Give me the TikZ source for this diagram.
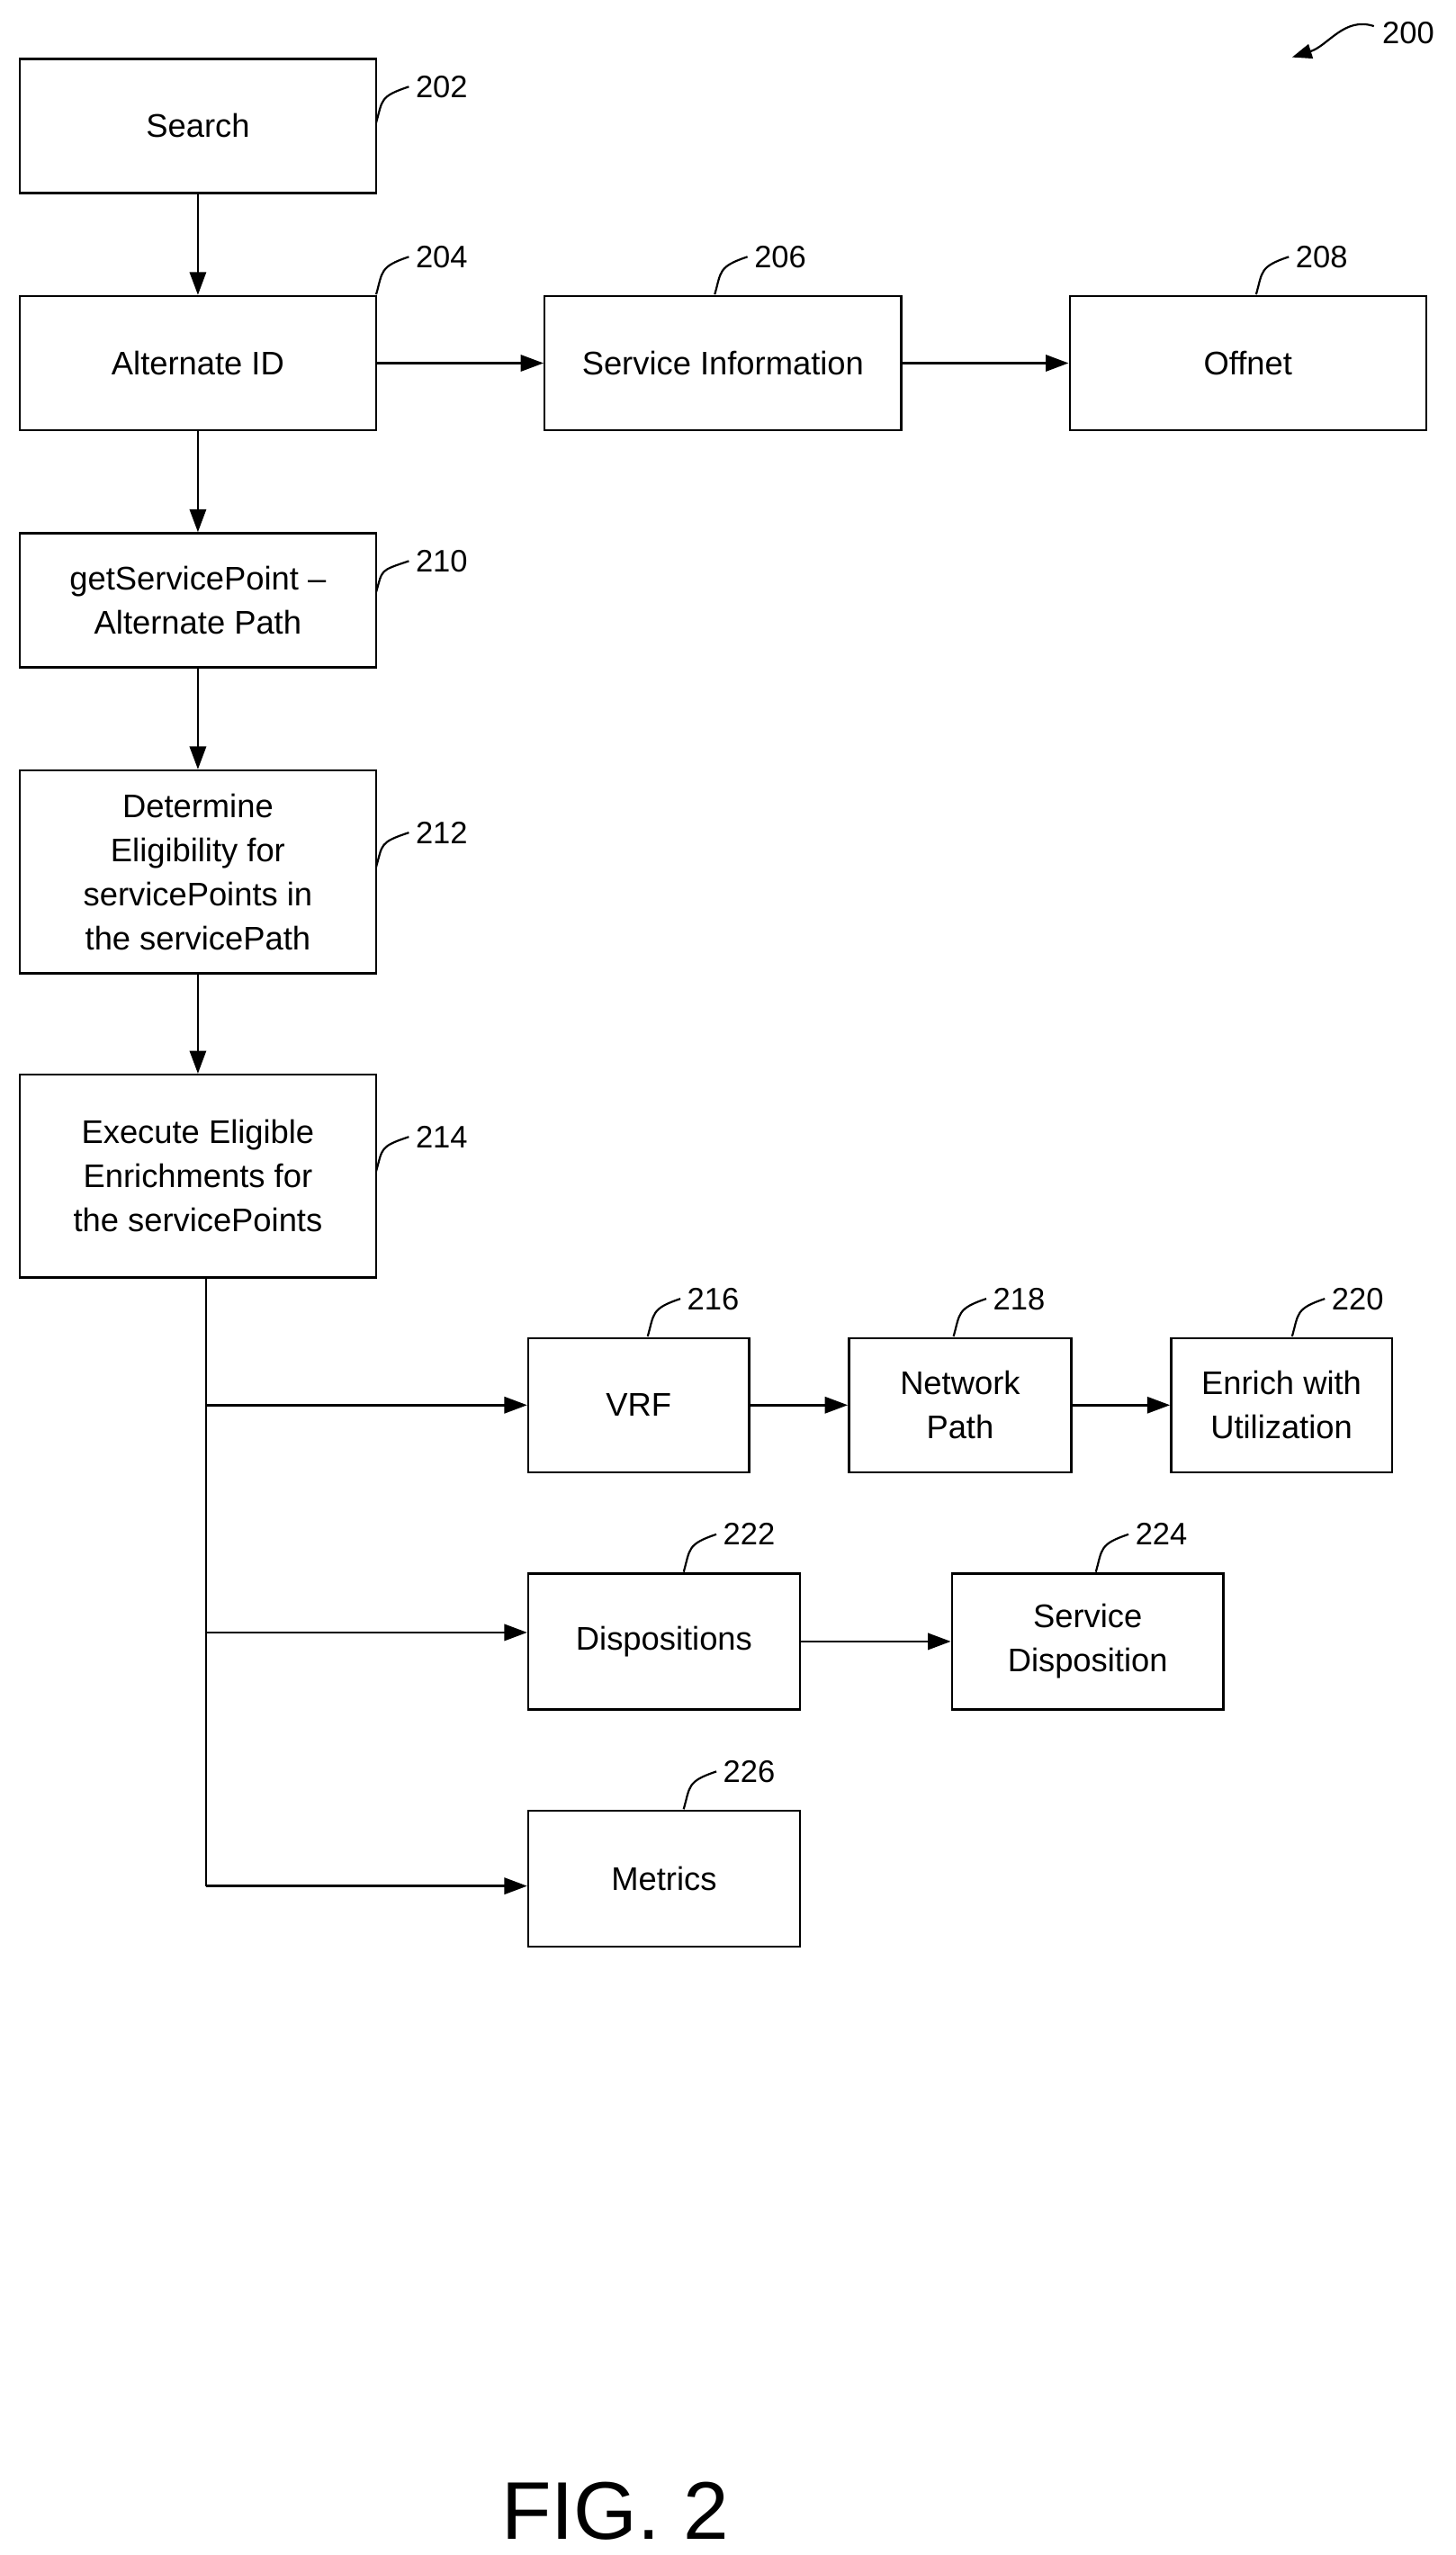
\documentclass[tikz,border=0pt]{standalone}
\usepackage{fontspec}
\setmainfont{Liberation Sans}
\usetikzlibrary{arrows.meta}
\begin{document}
\begin{tikzpicture}[x=1pt,y=-1pt,
  box/.style={draw,line width=1.3pt,inner sep=0pt,align=center,font=\fontsize{20}{27}\selectfont},
  arr/.style={line width=1.5pt,-{Triangle[length=14pt,width=10pt]}},
  num/.style={font=\fontsize{19}{22}\selectfont,anchor=west,inner sep=0pt},
  lead/.style={line width=1.2pt}]
\useasboundingbox (0,0) rectangle (890,1562);
\newcommand{\bx}[6]{\node[box,minimum width=#4-#2,minimum height=#5-#3] (#1) at ({(#2+#4)/2},{(#3+#5)/2}) {#6};}
\bx{search}{12}{36}{230}{118}{Search}
\bx{alt}{12}{181}{230}{263}{Alternate ID}
\bx{svc}{333}{181}{551}{263}{Service Information}
\bx{off}{654}{181}{872}{263}{Offnet}
\bx{gsp}{12}{326}{230}{408}{getServicePoint –\\Alternate Path}
\bx{det}{12}{471}{230}{595}{Determine\\Eligibility for\\servicePoints in\\the servicePath}
\bx{exe}{12}{657}{230}{781}{Execute Eligible\\Enrichments for\\the servicePoints}
\bx{vrf}{323}{818}{458}{900}{VRF}
\bx{net}{519}{818}{655}{900}{Network\\Path}
\bx{enr}{716}{818}{851}{900}{Enrich with\\Utilization}
\bx{dis}{323}{962}{489}{1045}{Dispositions}
\bx{sdis}{582}{962}{748}{1045}{Service\\Disposition}
\bx{met}{323}{1107}{489}{1190}{Metrics}
\draw[arr] (search) -- (alt);
\draw[arr] (alt) -- (gsp);
\draw[arr] (gsp) -- (det);
\draw[arr] (det) -- (exe);
\draw[arr] (alt) -- (svc);
\draw[arr] (svc) -- (off);
\draw[arr] (vrf) -- (net);
\draw[arr] (net) -- (enr);
\draw[arr] (dis) -- (sdis);
\coordinate (t0) at (126,781);
\coordinate (t1) at (126,859);
\coordinate (t2) at (126,998);
\coordinate (t3) at (126,1153);
\draw[line width=1.5pt] (t0) -- (t3);
\draw[arr] (t1) -- (vrf.west|-t1);
\draw[arr] (t2) -- (dis.west|-t2);
\draw[arr] (t3) -- (met.west|-t3);
% labels
\newcommand{\lb}[5]{\draw[lead] (#1,#2) .. controls (#1+4,#2-14) and (#3-22,#4+6) .. (#3-4,#4); \node[num] at (#3,#4) {#5};}
\lb{230}{75}{254}{53}{202}
\lb{230}{180}{254}{157}{204}
\lb{437}{180}{461}{157}{206}
\lb{768}{180}{792}{157}{208}
\lb{230}{362}{254}{343}{210}
\lb{230}{530}{254}{509}{212}
\lb{230}{716}{254}{695}{214}
\lb{396}{817}{420}{794}{216}
\lb{583}{817}{607}{794}{218}
\lb{790}{817}{814}{794}{220}
\lb{418}{961}{442}{938}{222}
\lb{670}{961}{694}{938}{224}
\lb{418}{1106}{442}{1083}{226}
\node[num] at (845,20) {200};
\draw[lead,-{Triangle[length=12pt,width=9pt]}] (840,16) .. controls (822,10) and (812,28) .. (790,35);
\node[font=\fontsize{50}{55}\selectfont] at (376,1535) {FIG. 2};
\end{tikzpicture}
\end{document}
